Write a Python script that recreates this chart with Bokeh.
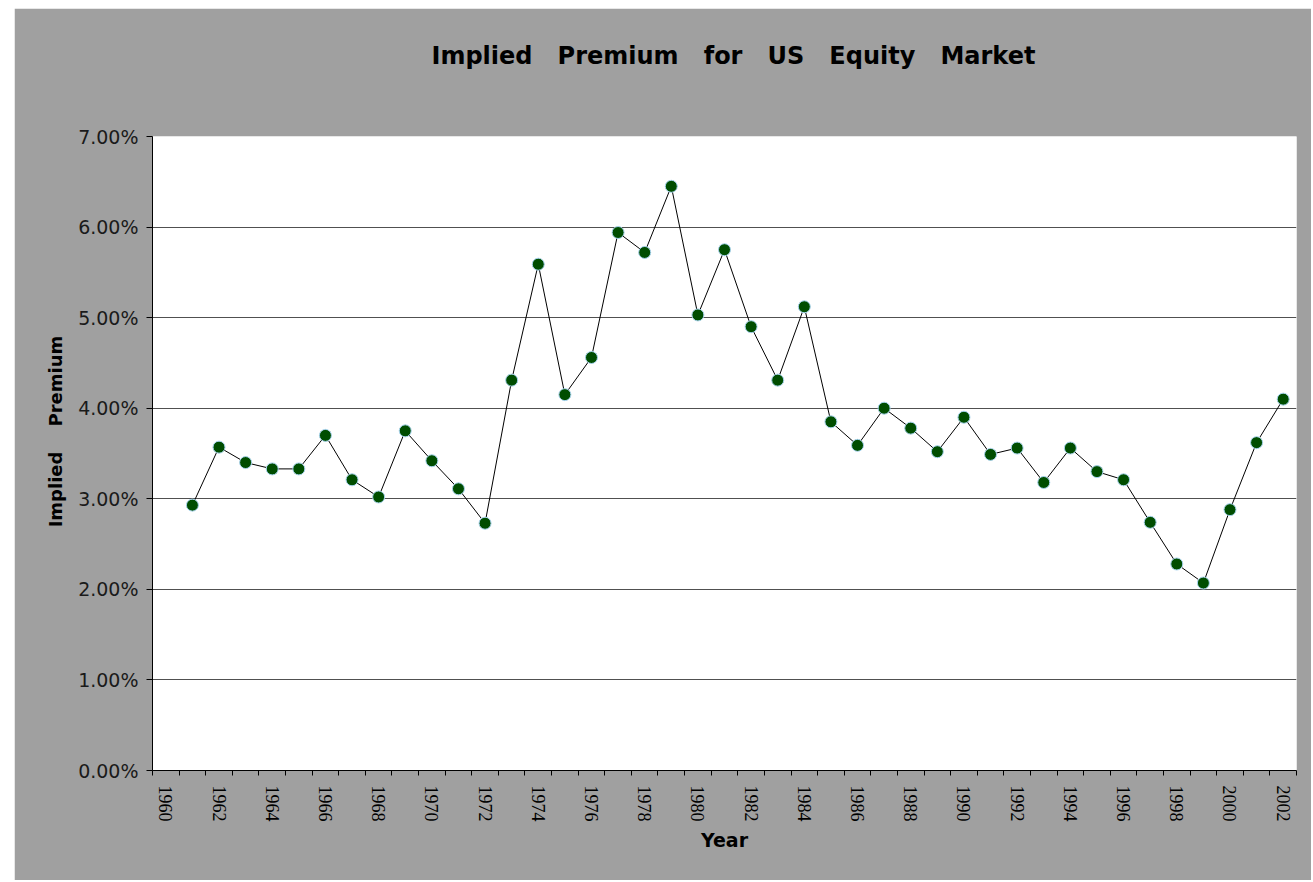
import math
from bokeh.plotting import figure
from bokeh.models import Range1d, FixedTicker, NumeralTickFormatter, Title, Spacer
from bokeh.layouts import row, column
from bokeh.embed import file_html
from bokeh.resources import INLINE

# ---- data ----
years = list(range(1961, 2003))
premium = [
    0.0293, 0.0357, 0.0340, 0.0333, 0.0333, 0.0370, 0.0321, 0.0302, 0.0375, 0.0342,
    0.0311, 0.0273, 0.0431, 0.0559, 0.0415, 0.0456, 0.0594, 0.0572, 0.0645, 0.0503,
    0.0575, 0.0490, 0.0431, 0.0512, 0.0385, 0.0359, 0.0400, 0.0378, 0.0352, 0.0390,
    0.0349, 0.0356, 0.0318, 0.0356, 0.0330, 0.0321, 0.0274, 0.0228, 0.0207, 0.0288,
    0.0362, 0.0410,
]
label_years = list(range(1960, 2003, 2))
category_edges = [y - 0.5 for y in range(1960, 2004)]
y_ticks = [0.0, 0.01, 0.02, 0.03, 0.04, 0.05, 0.06, 0.07]

NB = "\u00a0"
title_text = (3 * NB).join(["Implied", "Premium", "for", "US", "Equity", "Market"])
ylabel_text = 7 * NB + "Implied" + 4 * NB + "Premium"
xlabel_text = "Year"

GRAY = "#a0a0a0"

p = figure(
    width=1297, height=872,
    x_range=Range1d(1959.5, 2002.5), y_range=Range1d(0, 0.07),
    output_backend="svg", toolbar_location=None, title=None,
    min_border_left=138, min_border_right=15, min_border_top=128, min_border_bottom=110,
)
p.border_fill_color = GRAY
p.background_fill_color = "white"
p.outline_line_color = None

# x axis
xa = p.xaxis[0]
xa.ticker = FixedTicker(ticks=label_years, minor_ticks=category_edges)
xa.major_tick_out = 0
xa.major_tick_in = 0
xa.minor_tick_out = 5
xa.minor_tick_in = 0
xa.minor_tick_line_color = "black"
xa.axis_line_color = "black"
xa.major_label_orientation = -math.pi / 2
xa.major_label_text_font = "Liberation Serif"
xa.major_label_text_font_size = "18px"
xa.major_label_text_color = "black"
xa.major_label_standoff = 10
xa.axis_label = xlabel_text
xa.axis_label_text_font = "DejaVu Sans"
xa.axis_label_text_font_style = "bold"
xa.axis_label_text_font_size = "19px"
xa.axis_label_text_color = "black"
xa.axis_label_standoff = 4

# y axis
ya = p.yaxis[0]
ya.ticker = FixedTicker(ticks=y_ticks, minor_ticks=[])
ya.formatter = NumeralTickFormatter(format="0.00%")
ya.major_tick_out = 6
ya.major_tick_in = 0
ya.major_tick_line_color = "black"
ya.axis_line_color = "black"
ya.major_label_text_font = "DejaVu Sans"
ya.major_label_text_font_size = "19px"
ya.major_label_text_color = "#1a1a1a"
ya.major_label_standoff = 8
ya.axis_label = ylabel_text
ya.axis_label_text_font = "DejaVu Sans"
ya.axis_label_text_font_style = "bold"
ya.axis_label_text_font_size = "18px"
ya.axis_label_text_color = "black"
ya.axis_label_standoff = 9

p.xgrid.grid_line_color = None
p.ygrid.ticker = FixedTicker(ticks=y_ticks)
p.ygrid.grid_line_color = "#505050"
p.ygrid.grid_line_width = 1

# series
p.line(years, premium, line_color="black", line_width=1)
p.scatter(years, premium, marker="circle", size=12,
          fill_color="#004d00", line_color="#a8d4ee", line_width=1)

# spacer title (closest to frame) and the real title above it
p.add_layout(Title(text=NB, text_font_size="10px", standoff=24,
                   text_color=GRAY), "above")
p.add_layout(Title(text=title_text, text_font="DejaVu Sans", text_font_style="bold",
                   text_font_size="24px", text_color="black",
                   align="left", offset=279, vertical_align="middle",
                   standoff=58), "above")

layout = row(Spacer(width=14), column(Spacer(height=8), p))
open("out.html", "w").write(file_html(layout, INLINE))
